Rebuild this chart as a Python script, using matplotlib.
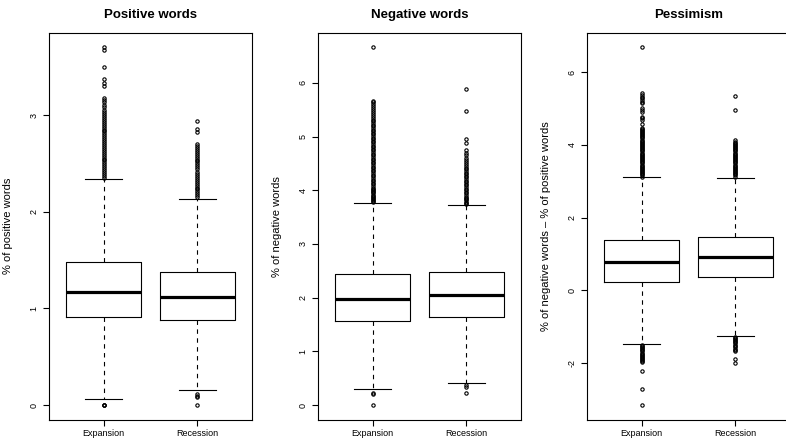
import matplotlib
matplotlib.use("Agg")
import matplotlib.pyplot as plt

plt.rcParams['font.family'] = ['Liberation Sans', 'DejaVu Sans']

#### Groups, titles and axis labels of the three panels
groups = ['Expansion', 'Recession']
titles = ['Positive words', 'Negative words', 'Pessimism']
ylabels = ['% of positive words',
           '% of negative words',
           '% of negative words \u2013 % of positive words']
yticks = [[0, 1, 2, 3],
          [0, 1, 2, 3, 4, 5, 6],
          [-2, 0, 2, 4, 6]]

#### Box statistics: (whisker low, Q1, median, Q3, whisker high)
pos_exp = [0.062, 0.907, 1.173, 1.478, 2.336]
pos_rec = [0.156, 0.883, 1.114, 1.381, 2.135]
neg_exp = [0.303, 1.567, 1.977, 2.440, 3.760]
neg_rec = [0.409, 1.642, 2.045, 2.473, 3.730]
pes_exp = [-1.49, 0.22, 0.78, 1.38, 3.11]
pes_rec = [-1.26, 0.375, 0.90, 1.46, 3.10]

#### Outliers (dense columns read as stacked points)
pos_exp_out = [0.0, 0.0, 0.0,
               2.35, 2.37, 2.39, 2.41, 2.43, 2.45, 2.47, 2.49, 2.51, 2.53, 2.55, 2.57,
               2.59, 2.61, 2.63, 2.65, 2.67, 2.69, 2.71, 2.73, 2.75, 2.77, 2.79, 2.81,
               2.83, 2.85, 2.87, 2.89, 2.91, 2.93, 2.95, 2.97, 2.99, 3.01, 3.03, 3.05,
               3.08, 3.10, 3.13, 3.16, 3.18, 3.30, 3.33, 3.37, 3.50, 3.67, 3.70]
pos_rec_out = [0.0, 0.086, 0.10, 0.12,
               2.15, 2.17, 2.19, 2.21, 2.23, 2.25, 2.27, 2.29, 2.31, 2.33, 2.35, 2.37,
               2.39, 2.41, 2.44, 2.46, 2.48, 2.50, 2.52, 2.54, 2.56, 2.58, 2.60, 2.62,
               2.64, 2.66, 2.68, 2.70, 2.82, 2.86, 2.94]
neg_exp_out = [0.0, 0.21, 0.23,
               3.78, 3.80, 3.82, 3.84, 3.86, 3.88, 3.90, 3.92, 3.94, 3.96, 3.98, 4.00,
               4.02, 4.05, 4.08, 4.11, 4.14, 4.17, 4.20, 4.23, 4.26, 4.29, 4.32, 4.35,
               4.38, 4.41, 4.44, 4.47, 4.50, 4.53, 4.56, 4.59, 4.62, 4.65, 4.68, 4.71,
               4.74, 4.77, 4.80, 4.83, 4.86, 4.89, 4.92, 4.95, 4.98, 5.01, 5.04, 5.07,
               5.10, 5.13, 5.16, 5.19, 5.22, 5.25, 5.28, 5.31, 5.34, 5.38, 5.42, 5.46,
               5.50, 5.53, 5.57, 5.60, 5.64, 5.67, 6.66]
neg_rec_out = [0.23, 0.33, 0.38,
               3.75, 3.77, 3.79, 3.81, 3.83, 3.85, 3.88, 3.91, 3.94, 3.97, 4.00, 4.03,
               4.06, 4.09, 4.12, 4.15, 4.18, 4.21, 4.24, 4.27, 4.30, 4.33, 4.36, 4.39,
               4.42, 4.45, 4.48, 4.52, 4.56, 4.60, 4.65, 4.70, 4.75, 4.87, 4.96, 5.48,
               5.88]
pes_exp_out = [-3.17, -2.72, -2.22,
               -1.99, -1.96, -1.93, -1.90, -1.87, -1.84, -1.81, -1.78, -1.75, -1.72,
               -1.69, -1.66, -1.63, -1.60, -1.57, -1.54, -1.51,
               3.13, 3.16, 3.19, 3.22, 3.25, 3.28, 3.31, 3.34, 3.37, 3.40, 3.43, 3.46,
               3.49, 3.52, 3.55, 3.58, 3.61, 3.64, 3.67, 3.70, 3.73, 3.76, 3.79, 3.82,
               3.85, 3.88, 3.91, 3.94, 3.97, 4.00, 4.03, 4.06, 4.09, 4.12, 4.15, 4.18,
               4.21, 4.24, 4.27, 4.30, 4.33, 4.36, 4.39, 4.42, 4.45, 4.48, 4.58, 4.69,
               4.73, 4.78, 4.92, 4.96, 5.01, 5.15, 5.19, 5.24, 5.28, 5.33, 5.38, 5.43,
               6.69]
pes_rec_out = [-2.01, -1.89, -1.69, -1.65, -1.61, -1.57, -1.53, -1.50, -1.47, -1.44,
               -1.41, -1.38, -1.35, -1.32, -1.29,
               3.13, 3.16, 3.19, 3.22, 3.25, 3.28, 3.31, 3.34, 3.37, 3.40, 3.43, 3.46,
               3.49, 3.52, 3.55, 3.58, 3.61, 3.64, 3.67, 3.70, 3.73, 3.76, 3.79, 3.82,
               3.85, 3.88, 3.91, 3.94, 3.97, 4.00, 4.03, 4.06, 4.09, 4.13, 4.95, 5.35]

panels = [(pos_exp, pos_rec, pos_exp_out, pos_rec_out),
          (neg_exp, neg_rec, neg_exp_out, neg_rec_out),
          (pes_exp, pes_rec, pes_exp_out, pes_rec_out)]


def make_stats(box, outliers, label):
    return dict(whislo=box[0], q1=box[1], med=box[2], q3=box[3], whishi=box[4],
                fliers=outliers, label=label)


fig = plt.figure(figsize=(7.86, 4.41), dpi=100)
W, H = 786.0, 441.0

for i, (b_exp, b_rec, o_exp, o_rec) in enumerate(panels):
    left = 49 + 269 * i                     #### panel left edge in pixels
    ax = fig.add_axes([left / W, (H - 419.5) / H, 203 / W, 386.5 / H])
    stats = [make_stats(b_exp, o_exp, groups[0]),
             make_stats(b_rec, o_rec, groups[1])]
    ax.bxp(stats, positions=[1, 2], widths=0.8, capwidths=0.4, showfliers=True,
           boxprops=dict(color='black', lw=0.8),
           medianprops=dict(color='black', lw=2.3, solid_capstyle='butt'),
           whiskerprops=dict(color='black', lw=0.8, linestyle=(0, (4, 4))),
           capprops=dict(color='black', lw=0.8),
           flierprops=dict(marker='o', markerfacecolor='none', markeredgecolor='black',
                           markersize=2.4, markeredgewidth=0.8, linestyle='none'))

    #### R style y-limits: data range padded by 4 %
    all_vals = b_exp + b_rec + o_exp + o_rec
    lo, hi = min(all_vals), max(all_vals)
    pad = 0.04 * (hi - lo)
    ax.set_ylim(lo - pad, hi + pad)
    ax.set_xlim(0.42, 2.58)

    ax.set_xticks([1, 2])
    ax.set_xticklabels(groups, fontsize=6.5)
    ax.set_yticks(yticks[i])
    ax.set_yticklabels([str(t) for t in yticks[i]], fontsize=6.5,
                       rotation=90, va='center')
    ax.tick_params(axis='both', length=4, width=0.8, color='black')
    ax.tick_params(axis='x', pad=3)
    ax.tick_params(axis='y', pad=3.5)
    for sp in ax.spines.values():
        sp.set_linewidth(0.8)
        sp.set_color('black')

    ax.set_ylabel(ylabels[i], fontsize=8)
    ax.yaxis.set_label_coords(-36 / 203, 0.5)
    ax.set_title(titles[i], fontsize=9.5, fontweight='bold', pad=11)

fig.savefig('out.png', dpi=100)
